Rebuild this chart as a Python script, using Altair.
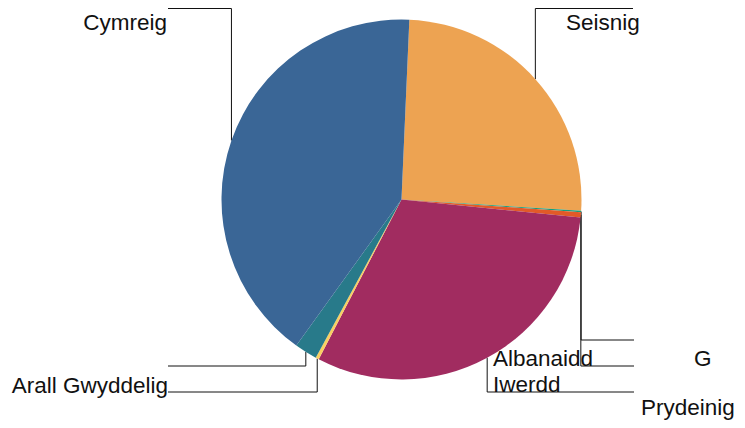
import math
import numpy as np
import pandas as pd
import altair as alt

# ---- data (percent shares, clockwise from the top) ----
categories = ["Seisnig", "Gogledd Iwerddon", "Albanaidd", "Prydeinig", "Gwyddelig", "Arall", "Cymreig"]
values = [25.3, 0.14, 0.47, 31.0, 0.3, 2.03, 40.76]
colors = ["#eda352", "#159e7c", "#e25a28", "#a12c60", "#f9cf62", "#287a8a", "#3a6696"]

# label texts as they appear
label_texts = ["Cymreig", "Seisnig", "Albanaidd", "G", "Iwerdd", "Prydeinig", "Arall Gwyddelig"]

# ---- layout (chart-local pixels) ----
W, H = 729, 412
CX, CY, R = 393.5, 191.5, 180
OFFSET = math.radians(2.5)
line_y = [0.5, 332, 358, 384, 384, 358, 0.5]   # connector levels per slice
end_x = [625, 626, 626, 626, 160, 160, 160]      # connector ends per slice
label_x = [159, 558, 485, 686, 485, 633, 160]
label_y = [22, 22, 357.5, 358, 383.5, 407, 384.5]
label_align = ["right", "left", "left", "left", "left", "left", "right"]

vals = np.array(values, dtype=float)
total = vals.sum()
cum = np.concatenate([[0], np.cumsum(vals)[:-1]])
mid = OFFSET + (cum + vals / 2) / total * 2 * math.pi
edge_x = CX + R * np.sin(mid)
edge_y = CY - R * np.cos(mid)

pie_df = pd.DataFrame({"cat": categories, "value": values, "idx": range(len(values))})
conn_df = pd.DataFrame({
    "cat": categories,
    "ex": edge_x, "ey": edge_y,
    "ly": line_y, "lx": end_x,
})
lab_df = pd.DataFrame({"text": label_texts, "x": label_x, "y": label_y, "align": label_align})

xs = alt.Scale(domain=[0, W], range=[0, W], nice=False, zero=False)
ys = alt.Scale(domain=[0, H], range=[0, H], nice=False, zero=False)

pie = alt.Chart(pie_df).mark_arc(radius=R, strokeWidth=0).encode(
    theta=alt.Theta("value:Q", stack=True,
                    scale=alt.Scale(domain=[0, total], range=[OFFSET, OFFSET + 2 * math.pi])),
    order=alt.Order("idx:Q"),
    color=alt.Color("cat:N", scale=alt.Scale(domain=categories, range=colors), legend=None),
    x=alt.value(CX),
    y=alt.value(CY),
)

vert = alt.Chart(conn_df).mark_rule(color="#111", strokeWidth=1).encode(
    x=alt.X("ex:Q", scale=xs, axis=None),
    y=alt.Y("ey:Q", scale=ys, axis=None),
    y2="ly:Q",
)
horiz = alt.Chart(conn_df).mark_rule(color="#111", strokeWidth=1).encode(
    x=alt.X("ex:Q", scale=xs, axis=None),
    x2="lx:Q",
    y=alt.Y("ly:Q", scale=ys, axis=None),
)

def text_layer(align):
    return alt.Chart(lab_df).transform_filter(alt.datum.align == align).mark_text(
        align=align, baseline="alphabetic", fontSize=22.5, font="Liberation Sans", color="#111"
    ).encode(
        x=alt.X("x:Q", scale=xs, axis=None),
        y=alt.Y("y:Q", scale=ys, axis=None),
        text="text:N",
    )

chart = alt.layer(vert, horiz, pie, text_layer("left"), text_layer("right")).properties(
    width=W, height=H, padding=0, autosize=alt.AutoSizeParams(type="none")
).configure_view(stroke=None)

chart.save("out.html", embed_options={"renderer": "svg", "actions": False})
